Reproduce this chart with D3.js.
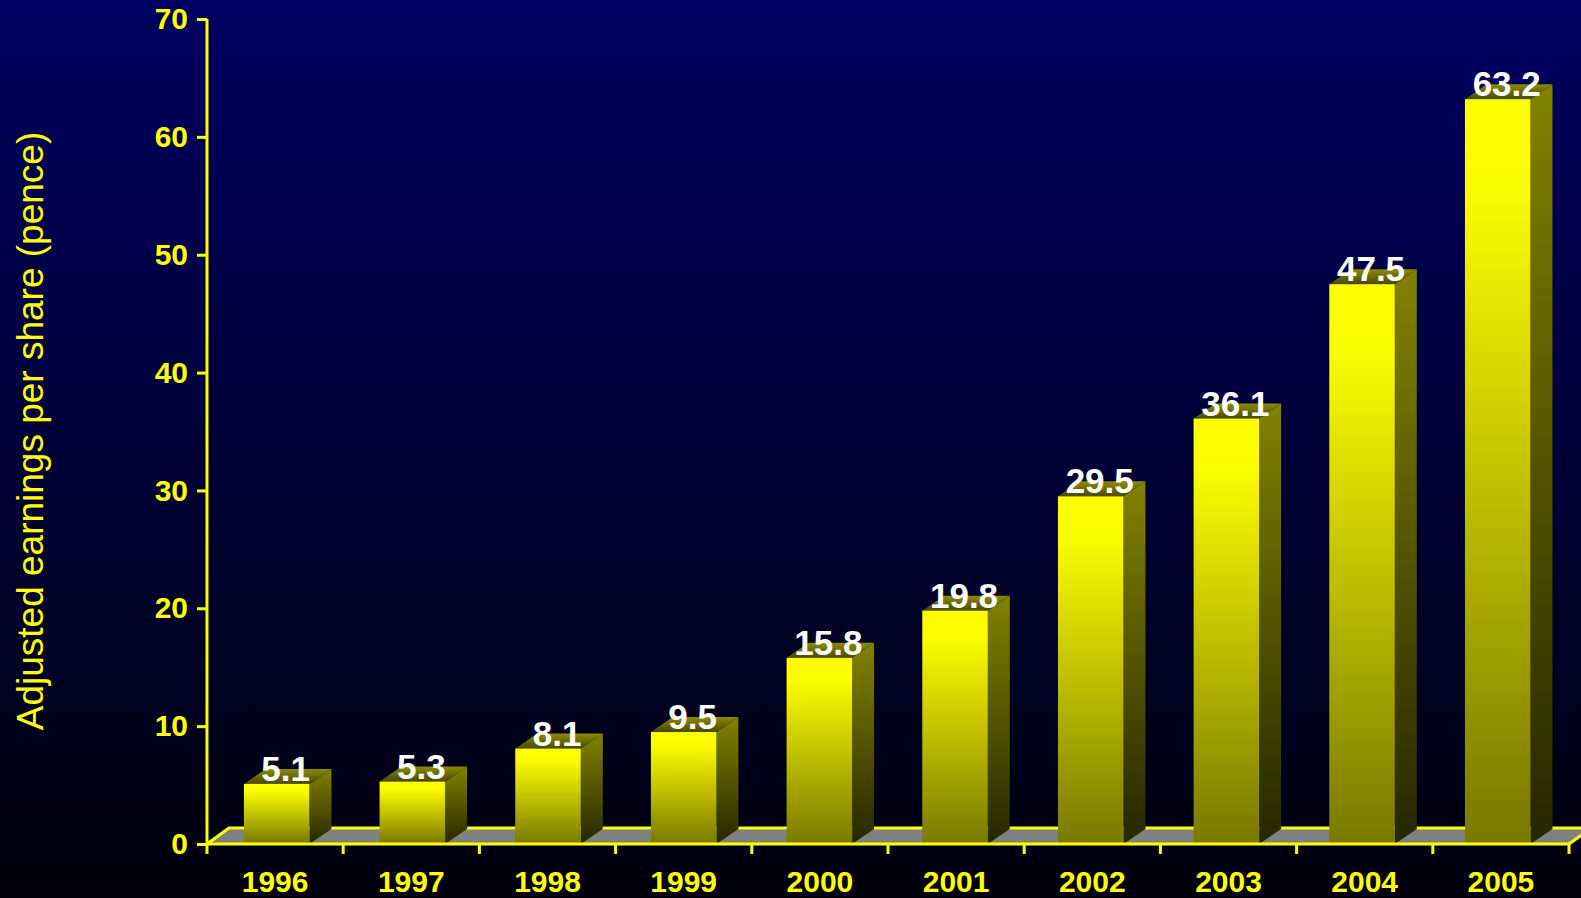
<!DOCTYPE html>
<html>
<head>
<meta charset="utf-8">
<script src="https://cdn.jsdelivr.net/npm/d3@7"></script>
<style>
  html, body { margin: 0; padding: 0; background: #000010; }
  svg { display: block; }
</style>
</head>
<body>
<svg id="chart" width="1581" height="898"></svg>
<script>
// Adjusted earnings per share, pence
const years = ["1996", "1997", "1998", "1999", "2000", "2001", "2002", "2003", "2004", "2005"];
const eps = [5.1, 5.3, 8.1, 9.5, 15.8, 19.8, 29.5, 36.1, 47.5, 63.2];
const yTicks = [0, 10, 20, 30, 40, 50, 60, 70];
const yTitle = "Adjusted earnings per share (pence)";

const W = 1581, H = 898;
const plotLeft = 207, plotRight = 1569, plotTop = 19, base = 844;
const depthX = 22, depthY = -15;
const FONT = "'Liberation Sans', Arial, sans-serif";

const svg = d3.select("#chart");
const defs = svg.append("defs");

function vGrad(id, stops) {
  const g = defs.append("linearGradient").attr("id", id)
    .attr("x1", 0).attr("y1", 0).attr("x2", 0).attr("y2", 1);
  stops.forEach(([o, c]) => g.append("stop").attr("offset", o).attr("stop-color", c));
}
vGrad("bg", [[0, "#000062"], [1, "#00000c"]]);
vGrad("front", [[0, "#ffff00"], [0.12, "#fcfc00"], [1, "#787800"]]);
vGrad("side", [[0, "#828200"], [1, "#262600"]]);
vGrad("topface", [[0, "#8c8c00"], [1, "#484800"]]);

svg.append("rect").attr("width", W).attr("height", H).attr("fill", "url(#bg)");

// Category axis scale and a slightly inset scale for the bar bodies
const x = d3.scaleBand().domain(years).range([plotLeft, plotRight]);
const xBar = d3.scaleBand().domain(years).range([plotLeft + 3, plotLeft + 3 + 1356.7]);
const y = d3.scaleLinear().domain([0, 70]).range([base, plotTop]);

// Floor
const floorBack = base - 16, floorDX = 22;
svg.append("polygon")
  .attr("points", [[plotLeft, base], [plotLeft + floorDX, floorBack], [plotRight + floorDX, floorBack], [plotRight, base]].join(" "))
  .attr("fill", "#808080");
const floorLines = svg.append("g").attr("stroke", "#ffff00").attr("stroke-width", 3).attr("fill", "none");
floorLines.append("path").attr("d", `M${plotLeft},${base}L${plotLeft + floorDX},${floorBack}H${plotRight + floorDX}`);
floorLines.append("path").attr("d", `M${plotRight},${base}L${plotRight + floorDX},${floorBack}`);

// Bars
const bw = xBar.bandwidth() * 0.483;
const bOff = xBar.bandwidth() * 0.25;
const data = years.map((yr, i) => ({ yr, v: eps[i] }));
const bars = svg.append("g").selectAll("g").data(data).join("g");

bars.append("polygon")
  .attr("points", d => {
    const x0 = xBar(d.yr) + bOff, x1 = x0 + bw, yt = y(d.v);
    return [[x1, yt], [x1 + depthX, yt + depthY], [x1 + depthX, base + depthY], [x1, base]].join(" ");
  })
  .attr("fill", "url(#side)");
bars.append("polygon")
  .attr("points", d => {
    const x0 = xBar(d.yr) + bOff, x1 = x0 + bw, yt = y(d.v);
    return [[x0, yt], [x0 + depthX, yt + depthY], [x1 + depthX, yt + depthY], [x1, yt]].join(" ");
  })
  .attr("fill", "url(#topface)");
bars.append("rect")
  .attr("x", d => xBar(d.yr) + bOff)
  .attr("y", d => y(d.v))
  .attr("width", bw)
  .attr("height", d => base - y(d.v))
  .attr("fill", "url(#front)");

// Value labels
bars.append("text")
  .attr("x", d => xBar(d.yr) + bOff + bw / 2 + 9)
  .attr("y", d => y(d.v) - 3)
  .attr("text-anchor", "middle")
  .attr("font-family", FONT)
  .attr("font-weight", "bold")
  .attr("font-size", 35)
  .attr("fill", "#ffffff")
  .text(d => d.v.toFixed(1));

// Front floor edge and x axis
svg.append("line")
  .attr("x1", plotLeft).attr("x2", plotRight).attr("y1", base).attr("y2", base)
  .attr("stroke", "#ffff00").attr("stroke-width", 3);
const bounds = years.map(yr => x(yr)).concat([plotRight]);
svg.append("g").selectAll("line").data(bounds).join("line")
  .attr("x1", d => d).attr("x2", d => d)
  .attr("y1", base).attr("y2", base + 10)
  .attr("stroke", "#ffff00").attr("stroke-width", 3);
svg.append("g").selectAll("text").data(years).join("text")
  .attr("x", d => x(d) + x.bandwidth() / 2)
  .attr("y", 892)
  .attr("text-anchor", "middle")
  .attr("font-family", FONT)
  .attr("font-weight", "bold")
  .attr("font-size", 30)
  .attr("fill", "#ffff00")
  .text(d => d);

// Y axis
const yAxis = svg.append("g")
  .attr("transform", `translate(${plotLeft},0)`)
  .call(d3.axisLeft(y).tickValues(yTicks).tickSize(10).tickPadding(9).tickFormat(d3.format("d")));
yAxis.select(".domain").attr("stroke", "#ffff00").attr("stroke-width", 3)
  .attr("d", `M0,${plotTop}V${base}`);
yAxis.selectAll(".tick line").attr("stroke", "#ffff00").attr("stroke-width", 3);
yAxis.selectAll(".tick text")
  .attr("fill", "#ffff00")
  .attr("font-family", FONT)
  .attr("font-weight", "bold")
  .attr("font-size", 30);

// Y axis title
svg.append("text")
  .attr("transform", "translate(43,431) rotate(-90)")
  .attr("text-anchor", "middle")
  .attr("font-family", FONT)
  .attr("font-size", 37)
  .attr("fill", "#ffff00")
  .text(yTitle);
</script>
</body>
</html>
